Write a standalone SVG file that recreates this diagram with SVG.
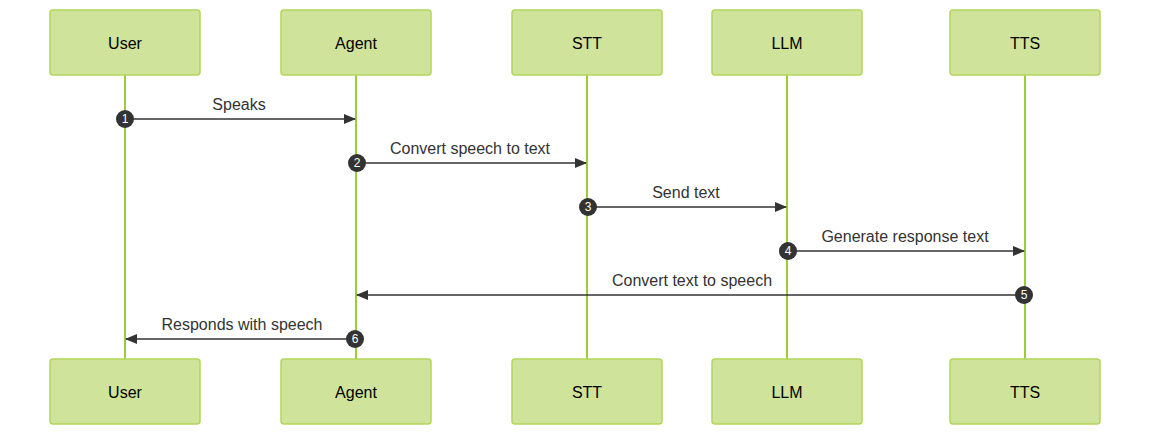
<svg xmlns="http://www.w3.org/2000/svg" width="1150" height="435" viewBox="0 0 1150 435">
<style>
.box{fill:#cfe39a;stroke:#b3d65a;stroke-width:1.5}
.lt{font-family:"Liberation Sans",Arial,sans-serif;font-size:16px;fill:#000;text-anchor:middle;dominant-baseline:central}
.life{stroke:#9ccc3a;stroke-width:2}
.msg{stroke:#333;stroke-width:1.5;fill:none}
.ml{font-family:"Liberation Sans",Arial,sans-serif;font-size:16px;fill:#333;text-anchor:middle}
.num{font-family:"Liberation Sans",Arial,sans-serif;font-size:12px;fill:#fff;text-anchor:middle;dominant-baseline:central}
</style>
<defs><marker id="ah" viewBox="0 0 12 10" refX="11" refY="5" markerWidth="12" markerHeight="10" markerUnits="userSpaceOnUse" orient="auto"><path d="M0,0L12,5L0,10z" fill="#333"/></marker></defs>
<g id="lifelines">
<line class="life" x1="125" y1="75" x2="125" y2="359"/>
<line class="life" x1="356" y1="75" x2="356" y2="359"/>
<line class="life" x1="587" y1="75" x2="587" y2="359"/>
<line class="life" x1="787" y1="75" x2="787" y2="359"/>
<line class="life" x1="1025" y1="75" x2="1025" y2="359"/>
</g>
<g id="user"><rect class="box" x="50" y="10" width="150" height="65" rx="3"/><text class="lt" x="125" y="43">User</text></g>
<g id="agent"><rect class="box" x="281" y="10" width="150" height="65" rx="3"/><text class="lt" x="356" y="43">Agent</text></g>
<g id="stt"><rect class="box" x="512" y="10" width="150" height="65" rx="3"/><text class="lt" x="587" y="43">STT</text></g>
<g id="llm"><rect class="box" x="712" y="10" width="150" height="65" rx="3"/><text class="lt" x="787" y="43">LLM</text></g>
<g id="tts"><rect class="box" x="950" y="10" width="150" height="65" rx="3"/><text class="lt" x="1025" y="43">TTS</text></g>
<g id="user-bottom"><rect class="box" x="50" y="359" width="150" height="65" rx="3"/><text class="lt" x="125" y="392">User</text></g>
<g id="agent-bottom"><rect class="box" x="281" y="359" width="150" height="65" rx="3"/><text class="lt" x="356" y="392">Agent</text></g>
<g id="stt-bottom"><rect class="box" x="512" y="359" width="150" height="65" rx="3"/><text class="lt" x="587" y="392">STT</text></g>
<g id="llm-bottom"><rect class="box" x="712" y="359" width="150" height="65" rx="3"/><text class="lt" x="787" y="392">LLM</text></g>
<g id="tts-bottom"><rect class="box" x="950" y="359" width="150" height="65" rx="3"/><text class="lt" x="1025" y="392">TTS</text></g>
<g id="connectors">
<line class="msg" x1="125" y1="119" x2="355" y2="119" marker-end="url(#ah)"/>
<text class="ml" x="239" y="110">Speaks</text>
<line class="msg" x1="356" y1="163" x2="586" y2="163" marker-end="url(#ah)"/>
<text class="ml" x="470" y="154">Convert speech to text</text>
<line class="msg" x1="587" y1="207" x2="786" y2="207" marker-end="url(#ah)"/>
<text class="ml" x="686" y="198">Send text</text>
<line class="msg" x1="787" y1="251" x2="1024" y2="251" marker-end="url(#ah)"/>
<text class="ml" x="905" y="242">Generate response text</text>
<line class="msg" x1="1025" y1="295" x2="357" y2="295" marker-end="url(#ah)"/>
<text class="ml" x="692" y="286">Convert text to speech</text>
<line class="msg" x1="356" y1="339" x2="126" y2="339" marker-end="url(#ah)"/>
<text class="ml" x="242" y="330">Responds with speech</text>
<circle cx="125" cy="119" r="9" fill="#333"/><text class="num" x="125" y="119">1</text>
<circle cx="357" cy="163" r="9" fill="#333"/><text class="num" x="357" y="163">2</text>
<circle cx="588" cy="207" r="9" fill="#333"/><text class="num" x="588" y="207">3</text>
<circle cx="788" cy="251" r="9" fill="#333"/><text class="num" x="788" y="251">4</text>
<circle cx="1024" cy="295" r="9" fill="#333"/><text class="num" x="1024" y="295">5</text>
<circle cx="355" cy="339" r="9" fill="#333"/><text class="num" x="355" y="339">6</text>
</g>
</svg>
